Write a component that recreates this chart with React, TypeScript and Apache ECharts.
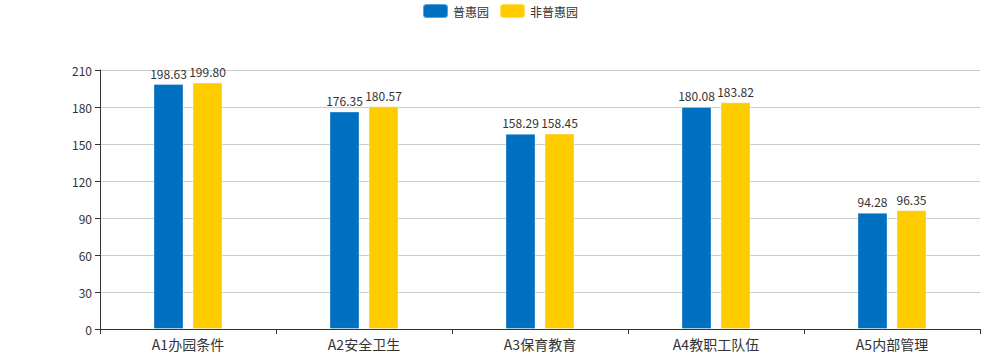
import React, { useEffect, useRef } from "react";
import * as echarts from "echarts";

const categories = ["A1办园条件", "A2安全卫生", "A3保育教育", "A4教职工队伍", "A5内部管理"];
const seriesNames = ["普惠园", "非普惠园"];
const puhui = [198.63, 176.35, 158.29, 180.08, 94.28];
const feipuhui = [199.8, 180.57, 158.45, 183.82, 96.35];

export default function App() {
  const ref = useRef<HTMLDivElement>(null);
  useEffect(() => {
    const chart = echarts.init(ref.current!, null, { renderer: "svg" });
    const font = "'Noto Sans CJK SC', 'Microsoft YaHei', sans-serif";
    chart.setOption({
      animation: false,
      textStyle: { fontFamily: font },
      color: ["#0070C0", "#FFCC00"],
      legend: {
        top: -2,
        left: "center",
        itemWidth: 25,
        itemHeight: 14,
        itemGap: 10,
        textStyle: { fontSize: 12, color: "#333", fontFamily: font },
        data: seriesNames,
      },
      grid: { left: 100, right: 20, top: 70, bottom: 31, containLabel: false },
      xAxis: {
        type: "category",
        data: categories,
        axisLine: { lineStyle: { color: "#333" } },
        axisTick: { show: true, lineStyle: { color: "#333" } },
        axisLabel: { fontSize: 14, color: "#333", fontFamily: font, margin: 8 },
      },
      yAxis: {
        type: "value",
        min: 0,
        max: 210,
        interval: 30,
        axisLine: { show: true, lineStyle: { color: "#333" } },
        axisTick: { show: true, lineStyle: { color: "#333" } },
        axisLabel: { fontSize: 12, color: "#333", fontFamily: font },
        splitLine: { lineStyle: { color: "#ccc" } },
      },
      series: [
        {
          name: seriesNames[0],
          type: "bar",
          data: puhui,
          barWidth: 30,
          barGap: "30%",
          itemStyle: { borderColor: "rgba(255,255,255,0.35)", borderWidth: 1 },
          label: { show: true, position: "top", fontSize: 12, color: "#333", fontFamily: font, formatter: (p: any) => p.value.toFixed(2) },
        },
        {
          name: seriesNames[1],
          type: "bar",
          data: feipuhui,
          barWidth: 30,
          barGap: "30%",
          itemStyle: { borderColor: "rgba(255,255,255,0.35)", borderWidth: 1 },
          label: { show: true, position: "top", fontSize: 12, color: "#333", fontFamily: font, formatter: (p: any) => p.value.toFixed(2) },
        },
      ],
    });
    return () => chart.dispose();
  }, []);
  return <div ref={ref} style={{ position: "absolute", left: 0, top: 0, width: 1000, height: 360 }} />;
}
